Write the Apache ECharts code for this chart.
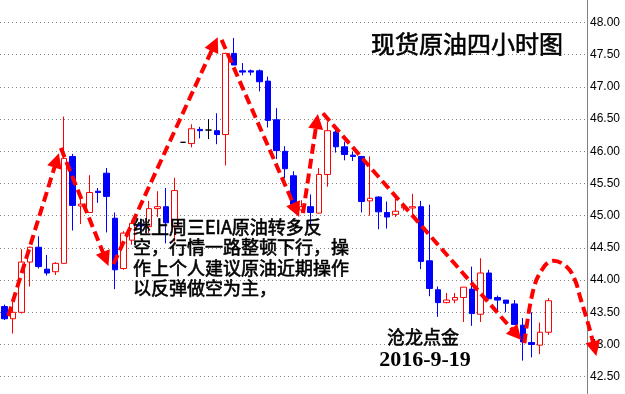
<!DOCTYPE html>
<html>
<head>
<meta charset="utf-8">
<script src="https://cdn.jsdelivr.net/npm/echarts@6/dist/echarts.min.js"></script>
<style>html,body{margin:0;padding:0;background:#fff}#c{width:625px;height:394px}</style>
</head>
<body>
<div id="c"></div>
<script>
// ---- data (4-hour bars) ----
const opens  = [43.59,43.40,43.50,44.28,44.51,44.17,44.13,44.26,45.92,45.15,45.05,45.38,45.66,44.96,44.18,44.62,44.87,44.83,45.11,45.14,44.84,46.14,46.12,46.34,46.33,46.32,46.26,47.52,47.25,47.25,47.25,47.09,46.49,46.00,45.62,45.09,45.14,45.04,45.64,46.30,46.07,45.94,45.92,45.23,45.29,45.05,45.02,45.12,45.12,45.14,44.30,43.85,43.65,43.69,43.73,43.86,43.47,44.11,43.73,43.69,43.63,43.30,43.03,42.99,43.19];
const closes = [43.40,43.50,44.28,44.51,44.21,44.11,44.26,45.89,45.16,45.18,45.36,45.36,45.30,44.16,44.73,44.88,44.84,45.11,45.14,44.89,45.39,46.14,46.35,46.32,46.33,46.26,47.52,47.34,47.23,47.23,47.08,46.48,46.01,45.73,45.10,45.14,45.05,45.64,46.32,46.07,45.95,45.92,45.22,45.27,45.06,44.98,45.07,45.14,45.14,44.29,43.87,43.65,43.69,43.73,43.89,43.48,44.11,43.71,43.69,43.64,43.31,43.04,43.00,43.19,43.68];
const lows   = [43.38,43.17,43.48,43.90,44.18,44.07,44.08,44.26,44.77,44.87,45.04,45.20,44.74,43.86,44.16,44.55,44.73,44.73,44.98,44.57,44.60,46.14,46.06,46.20,46.19,46.11,45.78,47.34,47.18,47.18,46.93,46.37,45.88,45.58,45.06,45.04,44.86,45.04,45.45,45.98,45.86,45.85,45.05,45.00,44.79,44.80,44.98,45.08,44.98,44.17,43.75,43.43,43.64,43.64,43.35,43.29,43.35,43.71,43.51,43.50,43.31,42.75,42.80,42.85,43.15];
const highs  = [43.62,43.66,44.48,44.52,44.68,44.39,44.28,46.54,45.96,45.27,45.63,45.43,45.74,45.05,44.76,44.93,44.95,45.23,45.38,45.43,45.59,46.14,46.42,46.38,46.50,46.59,47.53,47.76,47.37,47.27,47.27,47.16,46.67,46.08,45.69,45.24,45.33,45.74,46.46,46.41,46.15,45.99,45.92,45.92,45.30,45.22,45.27,45.18,45.34,45.23,45.17,43.90,43.80,43.80,43.89,44.21,44.34,44.16,43.76,43.69,43.69,43.41,43.50,43.34,43.72];
const yMin = 42.5, yMax = 48.0, yStep = 0.5;   // tick labels 42.50 ... 48.00
const emptySlots = 4;                            // empty bars to the right of the last candle

// ---- annotation texts ----
const titleText = '现货原油四小时图';
const noteLines = ['继上周三EIA原油转多反', '空，行情一路整顿下行，操', '作上个人建议原油近期操作', '以反弹做空为主，'];
const signText = '沧龙点金';
const dateText = '2016-9-19';

// ---- hand-drawn arrows, in data coordinates [bar index, price] ----
const arrowLines = [
  [[0.47,43.44],[6.42,45.97]],
  [[6.65,46.05],[12.25,44.22]],
  [[12.84,44.25],[25.09,47.77]],
  [[25.55,47.73],[34.66,44.98]],
  [[35.12,45.04],[36.87,46.58]],
  [[37.46,46.59],[60.79,43.07]]
];
const arrowCurve = [[61.14,43.02],[62.19,43.85],[63.36,44.19],[64.53,44.30],[66.16,44.20],[67.09,44.00],[67.68,43.74],[68.26,43.49],[68.85,43.22],[69.6,42.82]];

const categories = Array.from({length: opens.length + emptySlots}, (_, i) => 'bar' + (i + 1));
const candleData = opens.map((o, i) => {
  const item = {value: [o, closes[i], lows[i], highs[i]]};
  if (o === closes[i]) item.itemStyle = {color: '#000', color0: '#000', borderColor: '#000', borderColor0: '#000'};
  return item;
});

const chart = echarts.init(document.getElementById('c'), null, {renderer: 'canvas'});
chart.setOption({
  animation: false,
  backgroundColor: '#fff',
  grid: {left: -4.3, right: 38, top: 22.5, bottom: 17.3},
  xAxis: {type: 'category', data: categories, boundaryGap: true, show: false},
  yAxis: {
    type: 'value', position: 'right', min: yMin, max: yMax, interval: yStep,
    axisLine: {show: false}, axisTick: {show: false},
    axisLabel: {formatter: v => v.toFixed(2), color: '#000', fontSize: 12, fontFamily: 'Liberation Sans', margin: 3, padding: [6, 0, 0, 0]},
    splitLine: {show: true, lineStyle: {color: '#808080', type: [1, 3], width: 1}}
  },
  series: [{
    type: 'candlestick', data: candleData, barWidth: 6,
    itemStyle: {color: '#ffffff', color0: '#0000ff', borderColor: '#ff0000', borderColor0: '#0000ff', borderColorDoji: '#000', borderWidth: 1}
  }]
});

// pixel helpers through the chart's own axes
const x0 = chart.convertToPixel({xAxisIndex: 0}, 0);
const x1 = chart.convertToPixel({xAxisIndex: 0}, 1);
const band = x1 - x0;
const X = i => x0 + i * band;
const Y = p => chart.convertToPixel({yAxisIndex: 0}, p);
const P = d => [X(d[0]), Y(d[1])];

const RED = '#ff0000';
const dash = {stroke: RED, lineWidth: 4, lineDash: [10, 5], fill: null};
const HEAD_L = 15, HEAD_W = 7.5;
function head(prev, tip) {
  const dx = tip[0] - prev[0], dy = tip[1] - prev[1];
  const len = Math.hypot(dx, dy), ux = dx / len, uy = dy / len;
  const bx = tip[0] - ux * HEAD_L, by = tip[1] - uy * HEAD_L;
  return {
    base: [bx + ux * 2, by + uy * 2],
    poly: {type: 'polygon', z: 20, shape: {points: [tip, [bx - uy * HEAD_W, by + ux * HEAD_W], [bx + uy * HEAD_W, by - ux * HEAD_W]]}, style: {fill: RED}}
  };
}
const graphics = [];
arrowLines.forEach(([a, b]) => {
  const pa = P(a), pb = P(b);
  const h = head(pa, pb);
  graphics.push({type: 'polyline', z: 19, shape: {points: [pa, h.base]}, style: dash});
  graphics.push(h.poly);
});
{
  const pts = arrowCurve.map(P);
  const tip = pts[pts.length - 1];
  const h = head(pts[pts.length - 2], tip);
  const linePts = pts.slice(0, -1).concat([h.base]);
  graphics.push({type: 'polyline', z: 19, shape: {points: linePts, smooth: 0.4}, style: dash});
  graphics.push(h.poly);
}
// right axis line over full height
const axisX = Math.round(chart.getWidth() - 38) + 0.5;
graphics.push({type: 'line', z: 5, shape: {x1: axisX, y1: 0, x2: axisX, y2: chart.getHeight()}, style: {stroke: '#808080', lineWidth: 1}});
// texts (regular weight, thickened slightly with a thin stroke)
const cjk = '"Noto Sans CJK SC"';
const thick = {fill: '#000', stroke: '#000', lineWidth: 0.6};
graphics.push({type: 'text', z: 30, style: Object.assign({text: titleText, x: 467, y: 44, align: 'center', verticalAlign: 'middle', fontSize: 24, fontFamily: cjk}, thick)});
graphics.push({type: 'text', z: 30, style: Object.assign({text: noteLines.join('\n'), x: 133, y: 216.5, align: 'left', verticalAlign: 'top', fontSize: 18, lineHeight: 20.5, fontFamily: cjk}, thick)});
graphics.push({type: 'text', z: 30, style: Object.assign({text: signText, x: 423, y: 337.5, align: 'center', verticalAlign: 'middle', fontSize: 18, fontFamily: cjk}, thick)});
graphics.push({type: 'text', z: 30, style: {text: dateText, x: 425, y: 360, align: 'center', verticalAlign: 'middle', fontSize: 22, fontWeight: 'bold', fontFamily: '"Liberation Serif"', fill: '#000'}});
chart.setOption({graphic: {elements: graphics}});
</script>
</body>
</html>
